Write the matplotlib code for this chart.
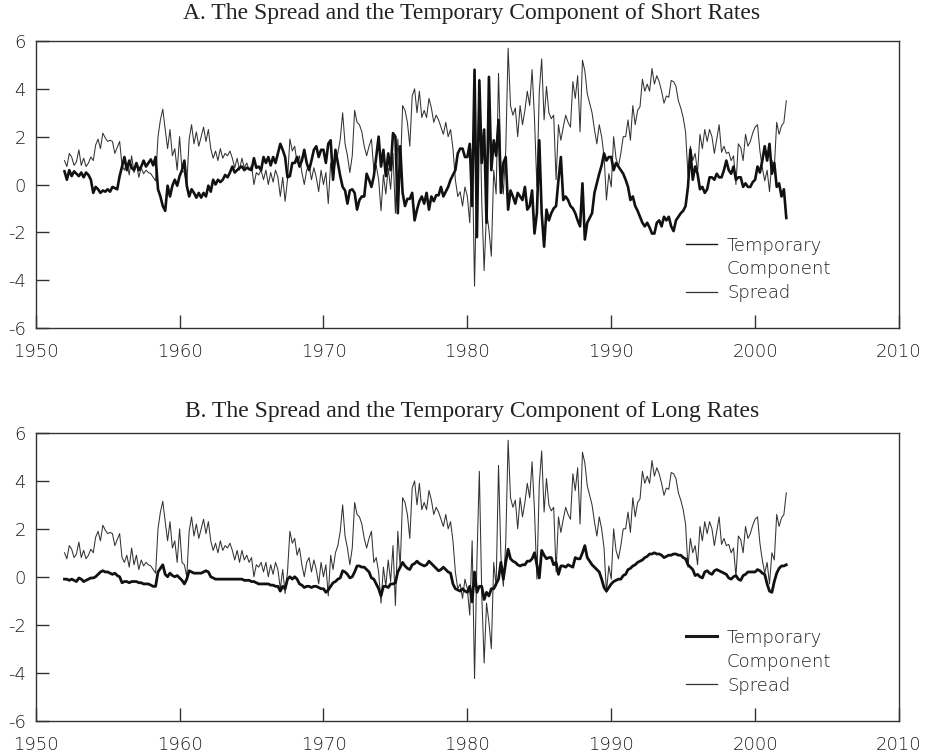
import numpy as np
import matplotlib
matplotlib.use("Agg")
import matplotlib.pyplot as plt
from matplotlib.lines import Line2D

# ---------------- data (bimonthly observations, first = Jan 1952) ----------------
start_year = 1952
per_year = 6

spread = [
    1.0, 0.75, 1.3, 1.15, 0.8, 0.95,      # 1952
    1.45, 0.8, 1.1, 0.75, 0.9, 1.15,      # 1953
    1.0, 1.65, 1.9, 1.5, 2.15, 1.95,      # 1954
    1.8, 1.85, 1.8, 1.3, 1.55, 1.8,       # 1955
    0.8, 0.6, 0.9, 0.4, 1.2, 0.5,         # 1956
    0.9, 0.3, 0.7, 0.45, 0.6, 0.5,        # 1957
    0.45, 0.3, 0.15, 2.0, 2.7, 3.15,      # 1958
    2.3, 1.5, 2.3, 1.2, 1.5, 0.6,         # 1959
    2.0, 0.6, 0.5, 0.0, 1.9, 2.5,         # 1960
    1.7, 2.2, 1.6, 2.0, 2.4, 1.8,         # 1961
    2.3, 1.5, 1.1, 1.4, 1.0, 1.5,         # 1962
    1.1, 1.3, 1.2, 1.4, 1.1, 0.7,         # 1963
    1.1, 0.6, 1.1, 0.7, 0.9, 0.6,         # 1964
    0.8, 0.0, 0.5, 0.4, 0.6, 0.2,         # 1965
    0.6, 0.0, 0.5, 0.1, 0.6, 0.3,         # 1966
    -0.5, 0.3, -0.7, 0.2, 1.9, 1.4,       # 1967
    1.6, 0.9, 1.2, 0.5, 0.0, 0.6,         # 1968
    0.8, 0.2, 0.7, 0.3, -0.3, 0.6,        # 1969
    0.0, 0.5, -0.8, 0.9, 0.3, 1.0,        # 1970
    1.3, 1.9, 3.0, 1.7, 1.2, 0.5,         # 1971
    1.2, 3.1, 2.6, 2.5, 2.2, 1.6,         # 1972
    1.2, 1.6, 1.9, 0.6, 0.8, 0.2,         # 1973
    -1.1, 0.4, -0.4, 0.7, -0.2, 1.3,      # 1974
    -1.2, 1.9, 0.4, 3.3, 3.1, 2.6,        # 1975
    1.6, 3.7, 4.0, 3.0, 3.9, 2.8,         # 1976
    3.1, 2.8, 3.6, 3.2, 2.6, 2.9,         # 1977
    2.7, 2.4, 2.1, 2.6, 2.0, 2.3,         # 1978
    1.5, 0.2, -0.5, -0.3, -0.9, -0.1,     # 1979
    -0.5, -1.6, 1.5, -4.25, 0.7, 4.4,     # 1980
    -0.7, -3.6, -1.1, -1.9, -3.0, 0.6,    # 1981
    -0.4, 4.65, 0.85, -0.4, 1.4, 5.7,     # 1982
    3.3, 2.9, 3.2, 2.0, 3.3, 2.5,         # 1983
    3.1, 3.9, 3.3, 4.8, 2.75, -0.1,       # 1984
    3.9, 5.25, 2.7, 4.1, 3.0, 2.75,       # 1985
    2.9, 0.2, 2.5, 1.85, 2.4, 2.9,        # 1986
    2.6, 2.4, 4.3, 3.6, 4.55, 2.2,        # 1987
    5.2, 4.75, 3.8, 3.4, 3.0, 2.3,        # 1988
    1.7, 2.5, 2.0, 1.2, -0.65, 0.45,      # 1989
    -0.1, 2.0, 1.1, 0.75, 1.3, 2.0,       # 1990
    2.0, 2.7, 1.85, 3.3, 2.5, 3.1,        # 1991
    3.25, 4.4, 3.9, 4.2, 3.9, 4.85,       # 1992
    4.2, 4.55, 4.3, 3.9, 3.4, 3.7,        # 1993
    3.65, 4.35, 4.3, 4.1, 3.5, 3.2,       # 1994
    2.8, 2.2, 0.4, 1.6, 1.0, 1.3,         # 1995
    0.5, 2.1, 1.5, 2.3, 1.8, 2.3,         # 1996
    2.0, 1.3, 1.9, 2.5, 1.35, 1.6,        # 1997
    1.3, 1.35, 1.0, 1.2, 0.0, 1.7,        # 1998
    1.55, 1.0, 2.1, 1.6, 1.8, 2.15,       # 1999
    2.4, 2.5, 1.4, 0.7, 0.15, 0.6,        # 2000
    -0.3, 1.0, 0.7, 2.6, 2.1, 2.45,       # 2001
    2.6, 3.5,                             # 2002
]

temp_short = [
    0.55, 0.2, 0.6, 0.35, 0.55, 0.45,     # 1952
    0.35, 0.5, 0.3, 0.5, 0.4, 0.2,        # 1953
    -0.35, -0.1, -0.2, -0.35, -0.25, -0.3,  # 1954
    -0.2, -0.3, -0.1, -0.15, -0.2, 0.35,  # 1955
    0.75, 1.15, 0.6, 1.0, 0.7, 0.6,       # 1956
    0.9, 0.6, 0.75, 1.0, 0.75, 0.9,       # 1957
    1.05, 0.8, 1.15, -0.2, -0.5, -0.9,    # 1958
    -1.1, -0.05, -0.5, -0.05, 0.2, -0.05, # 1959
    0.35, 0.6, 1.0, -0.05, -0.5, -0.2,    # 1960
    -0.35, -0.55, -0.35, -0.55, -0.35, -0.5,  # 1961
    -0.05, -0.3, 0.2, 0.0, 0.2, 0.1,      # 1962
    0.2, 0.4, 0.3, 0.5, 0.75, 0.5,        # 1963
    0.6, 0.7, 0.75, 0.6, 0.7, 0.65,       # 1964
    0.6, 1.1, 0.7, 0.75, 0.6, 1.15,       # 1965
    0.9, 1.15, 0.8, 1.15, 0.9, 1.3,       # 1966
    1.7, 1.45, 1.15, 0.3, 0.35, 0.9,      # 1967
    0.9, 1.15, 0.75, 1.0, 1.45, 0.9,      # 1968
    0.6, 1.0, 1.45, 1.6, 1.15, 1.45,      # 1969
    1.45, 0.9, 1.7, 1.85, 0.2, 1.45,      # 1970
    0.9, 0.35, -0.1, -0.25, -0.8, -0.25,  # 1971
    -0.2, -0.35, -1.05, -0.65, -0.5, -0.5,  # 1972
    0.45, 0.2, -0.1, 0.35, 1.15, 2.0,     # 1973
    0.75, 1.45, 0.35, 1.3, 0.6, 2.15,     # 1974
    2.0, -1.2, 1.6, -0.35, -0.9, -0.6,    # 1975
    -0.6, -0.35, -1.5, -1.05, -0.7, -0.5, # 1976
    -0.8, -0.35, -1.05, -0.5, -0.7, -0.45,  # 1977
    -0.45, -0.1, -0.5, -0.3, -0.1, 0.2,   # 1978
    0.4, 0.6, 1.3, 1.5, 1.5, 1.15,        # 1979
    1.15, 1.7, -0.9, 4.8, -2.2, 4.35,     # 1980
    0.9, 2.3, -1.6, 4.5, 0.6, 1.85,       # 1981
    1.2, 2.7, -0.35, 0.9, 1.15, -1.05,    # 1982
    -0.25, -0.5, -0.8, -0.35, -0.5, -0.65,  # 1983
    -0.1, -1.05, -0.9, -0.25, -2.05, -1.2,  # 1984
    1.85, -1.2, -2.6, -1.05, -1.5, -1.2,  # 1985
    -1.0, -0.9, 0.2, 1.15, -0.65, -0.5,   # 1986
    -0.65, -0.9, -1.0, -1.2, -1.5, -1.75, # 1987
    0.05, -2.3, -1.6, -1.4, -1.2, -0.35,  # 1988
    0.05, 0.45, 0.8, 1.3, 1.0, 1.15,      # 1989
    1.15, 0.6, 0.9, 0.75, 0.6, 0.45,      # 1990
    0.2, -0.1, -0.65, -0.5, -0.9, -1.1,   # 1991
    -1.35, -1.6, -1.75, -1.6, -1.8, -2.05,  # 1992
    -2.05, -1.6, -1.5, -1.75, -1.35, -1.5,  # 1993
    -1.35, -1.75, -1.95, -1.5, -1.35, -1.2,  # 1994
    -1.1, -0.9, -0.1, 1.45, 0.2, 0.75,    # 1995
    0.45, -0.2, -0.1, -0.35, -0.2, 0.3,   # 1996
    0.3, 0.2, 0.45, 0.3, 0.3, 0.6,        # 1997
    1.0, 0.6, 0.45, 0.75, 0.2, 0.3,       # 1998
    0.3, -0.1, 0.05, -0.1, -0.1, 0.1,     # 1999
    0.2, 0.75, 0.5, 1.0, 1.6, 1.0,        # 2000
    1.7, 0.45, 0.9, -0.1, 0.05, -0.5,     # 2001
    -0.2, -1.4,                           # 2002
]

temp_long = [
    -0.1, -0.1, -0.15, -0.1, -0.15, -0.2,   # 1952
    -0.05, -0.1, -0.2, -0.15, -0.1, -0.05,  # 1953
    -0.05, 0.0, 0.1, 0.2, 0.25, 0.2,        # 1954
    0.2, 0.15, 0.1, 0.15, 0.05, 0.0,        # 1955
    -0.25, -0.2, -0.2, -0.25, -0.2, -0.2,   # 1956
    -0.2, -0.25, -0.25, -0.3, -0.3, -0.3,   # 1957
    -0.35, -0.4, -0.4, 0.2, 0.35, 0.5,      # 1958
    0.1, 0.0, 0.15, 0.05, 0.0, 0.05,        # 1959
    -0.05, -0.15, -0.3, -0.1, 0.25, 0.2,    # 1960
    0.15, 0.15, 0.15, 0.15, 0.2, 0.25,      # 1961
    0.2, 0.0, -0.05, -0.1, -0.1, -0.1,      # 1962
    -0.1, -0.1, -0.1, -0.1, -0.1, -0.1,     # 1963
    -0.1, -0.1, -0.1, -0.15, -0.15, -0.15,  # 1964
    -0.2, -0.2, -0.25, -0.3, -0.3, -0.3,    # 1965
    -0.3, -0.3, -0.35, -0.35, -0.4, -0.4,   # 1966
    -0.6, -0.4, -0.5, -0.1, 0.0, -0.1,      # 1967
    0.0, -0.1, -0.3, -0.35, -0.45, -0.4,    # 1968
    -0.4, -0.45, -0.4, -0.4, -0.45, -0.5,   # 1969
    -0.5, -0.65, -0.55, -0.4, -0.25, -0.2,  # 1970
    -0.1, -0.05, 0.25, 0.2, 0.1, -0.05,     # 1971
    0.0, 0.2, 0.45, 0.45, 0.4, 0.4,         # 1972
    0.3, 0.2, -0.05, -0.1, -0.3, -0.5,      # 1973
    -0.8, -0.4, -0.4, -0.45, -0.3, -0.3,    # 1974
    -0.25, 0.2, 0.4, 0.6, 0.45, 0.35,       # 1975
    0.3, 0.5, 0.55, 0.65, 0.55, 0.5,        # 1976
    0.45, 0.5, 0.65, 0.55, 0.45, 0.35,      # 1977
    0.25, 0.3, 0.4, 0.3, 0.2, 0.15,         # 1978
    -0.3, -0.5, -0.55, -0.6, -0.5, -0.6,    # 1979
    -0.65, -0.4, -1.05, 0.2, -0.65, -0.4,   # 1980
    -0.4, -0.95, -0.65, -0.8, -0.5, -0.5,   # 1981
    -0.3, -0.1, 0.6, -0.1, 0.6, 1.15,       # 1982
    0.75, 0.65, 0.6, 0.5, 0.45, 0.5,        # 1983
    0.5, 0.65, 0.65, 0.75, 1.0, 0.5,        # 1984
    -0.05, 1.1, 0.9, 0.75, 0.8, 0.8,        # 1985
    0.5, 0.6, 0.1, 0.45, 0.45, 0.4,         # 1986
    0.5, 0.45, 0.4, 0.8, 0.75, 0.75,        # 1987
    1.0, 1.3, 0.8, 0.65, 0.5, 0.4,          # 1988
    0.3, 0.2, -0.1, -0.45, -0.6, -0.45,     # 1989
    -0.3, -0.2, -0.15, -0.1, -0.1, 0.05,    # 1990
    0.1, 0.3, 0.35, 0.45, 0.5, 0.6,         # 1991
    0.65, 0.7, 0.8, 0.85, 0.95, 0.95,       # 1992
    1.0, 0.95, 0.95, 0.9, 0.8, 0.85,        # 1993
    0.9, 0.9, 0.95, 0.95, 0.9, 0.9,         # 1994
    0.8, 0.75, 0.5, 0.4, 0.3, 0.05,         # 1995
    0.1, 0.0, -0.05, 0.2, 0.25, 0.15,       # 1996
    0.1, 0.25, 0.3, 0.25, 0.2, 0.15,        # 1997
    0.1, -0.05, -0.1, 0.0, 0.05, -0.1,      # 1998
    -0.15, 0.05, 0.1, 0.2, 0.2, 0.2,        # 1999
    0.2, 0.3, 0.25, 0.15, 0.1, -0.3,        # 2000
    -0.6, -0.65, -0.2, 0.15, 0.35, 0.45,    # 2001
    0.45, 0.5,                              # 2002
]

x_ticks = [1950, 1960, 1970, 1980, 1990, 2000, 2010]
y_ticks = [-6, -4, -2, 0, 2, 4, 6]
title_a = "A. The Spread and the Temporary Component of Short Rates"
title_b = "B. The Spread and the Temporary Component of Long Rates"
legend_temp = ["Temporary", "Component"]
legend_spread = "Spread"

# ---------------- figure ----------------
W, H = 925, 752
fig = plt.figure(figsize=(W / 100, H / 100), dpi=100)

SANS = ["DejaVu Sans"]
SERIF = ["Liberation Serif", "DejaVu Serif"]
TXT = "#1e1e1e"
WEIGHT = "light"


def px_axes(left, top, right, bottom):
    return fig.add_axes([left / W, 1 - bottom / H, (right - left) / W, (bottom - top) / H])


t = start_year + np.arange(len(spread)) / per_year

axA = px_axes(35.7, 41, 899, 328)
axB = px_axes(35.7, 433, 899, 720.5)


def style(ax):
    ax.set_xlim(1950, 2010)
    ax.set_ylim(-6, 6)
    ax.set_xticks(x_ticks)
    ax.set_yticks(y_ticks)
    ax.set_xticklabels([str(v) for v in x_ticks])
    ax.set_yticklabels([str(v) for v in y_ticks])
    for s in ax.spines.values():
        s.set_color("#333333")
        s.set_linewidth(1.0)
    ax.tick_params(axis="both", direction="in", length=9.5, width=1.0,
                   color="#333333", labelcolor=TXT, labelsize=13,
                   top=False, right=False)
    ax.tick_params(axis="x", pad=11)
    ax.tick_params(axis="y", pad=7)
    for lab in ax.get_xticklabels() + ax.get_yticklabels():
        lab.set_family(SANS)
        lab.set_fontweight(WEIGHT)


def legend(ax, temp_lw):
    ah = 287.0

    def fy(off):
        return 1 - off / ah
    x0 = (686 - 35.7) / 863.3
    x1 = (717 - 35.7) / 863.3
    xt = (727 - 35.7) / 863.3
    ax.add_line(Line2D([x0, x1], [fy(203), fy(203)], transform=ax.transAxes,
                       color="#1a1a1a", lw=temp_lw))
    ax.add_line(Line2D([x0, x1], [fy(250.5), fy(250.5)], transform=ax.transAxes,
                       color="#333333", lw=0.9))
    for txt, off in ((legend_temp[0], 210), (legend_temp[1], 233.5), (legend_spread, 257.5)):
        ax.text(xt, fy(off), txt, transform=ax.transAxes, va="baseline",
                ha="left", fontsize=13, color=TXT, family=SANS, fontweight=WEIGHT)


# Panel A
axA.plot(t, spread, color="#333333", lw=0.75, zorder=2)
axA.plot(t, temp_short, color="#111111", lw=1.9, zorder=3)
style(axA)
legend(axA, 1.0)

# Panel B
axB.plot(t, spread, color="#333333", lw=0.75, zorder=2)
axB.plot(t, temp_long, color="#111111", lw=2.0, zorder=3)
style(axB)
legend(axB, 2.2)

fig.text(472 / W, 1 - 19 / H, title_a, ha="center", va="baseline",
         fontsize=17, family=SERIF, color="#222222")
fig.text(472 / W, 1 - 417 / H, title_b, ha="center", va="baseline",
         fontsize=17, family=SERIF, color="#222222")

fig.savefig("out.png", dpi=100)
